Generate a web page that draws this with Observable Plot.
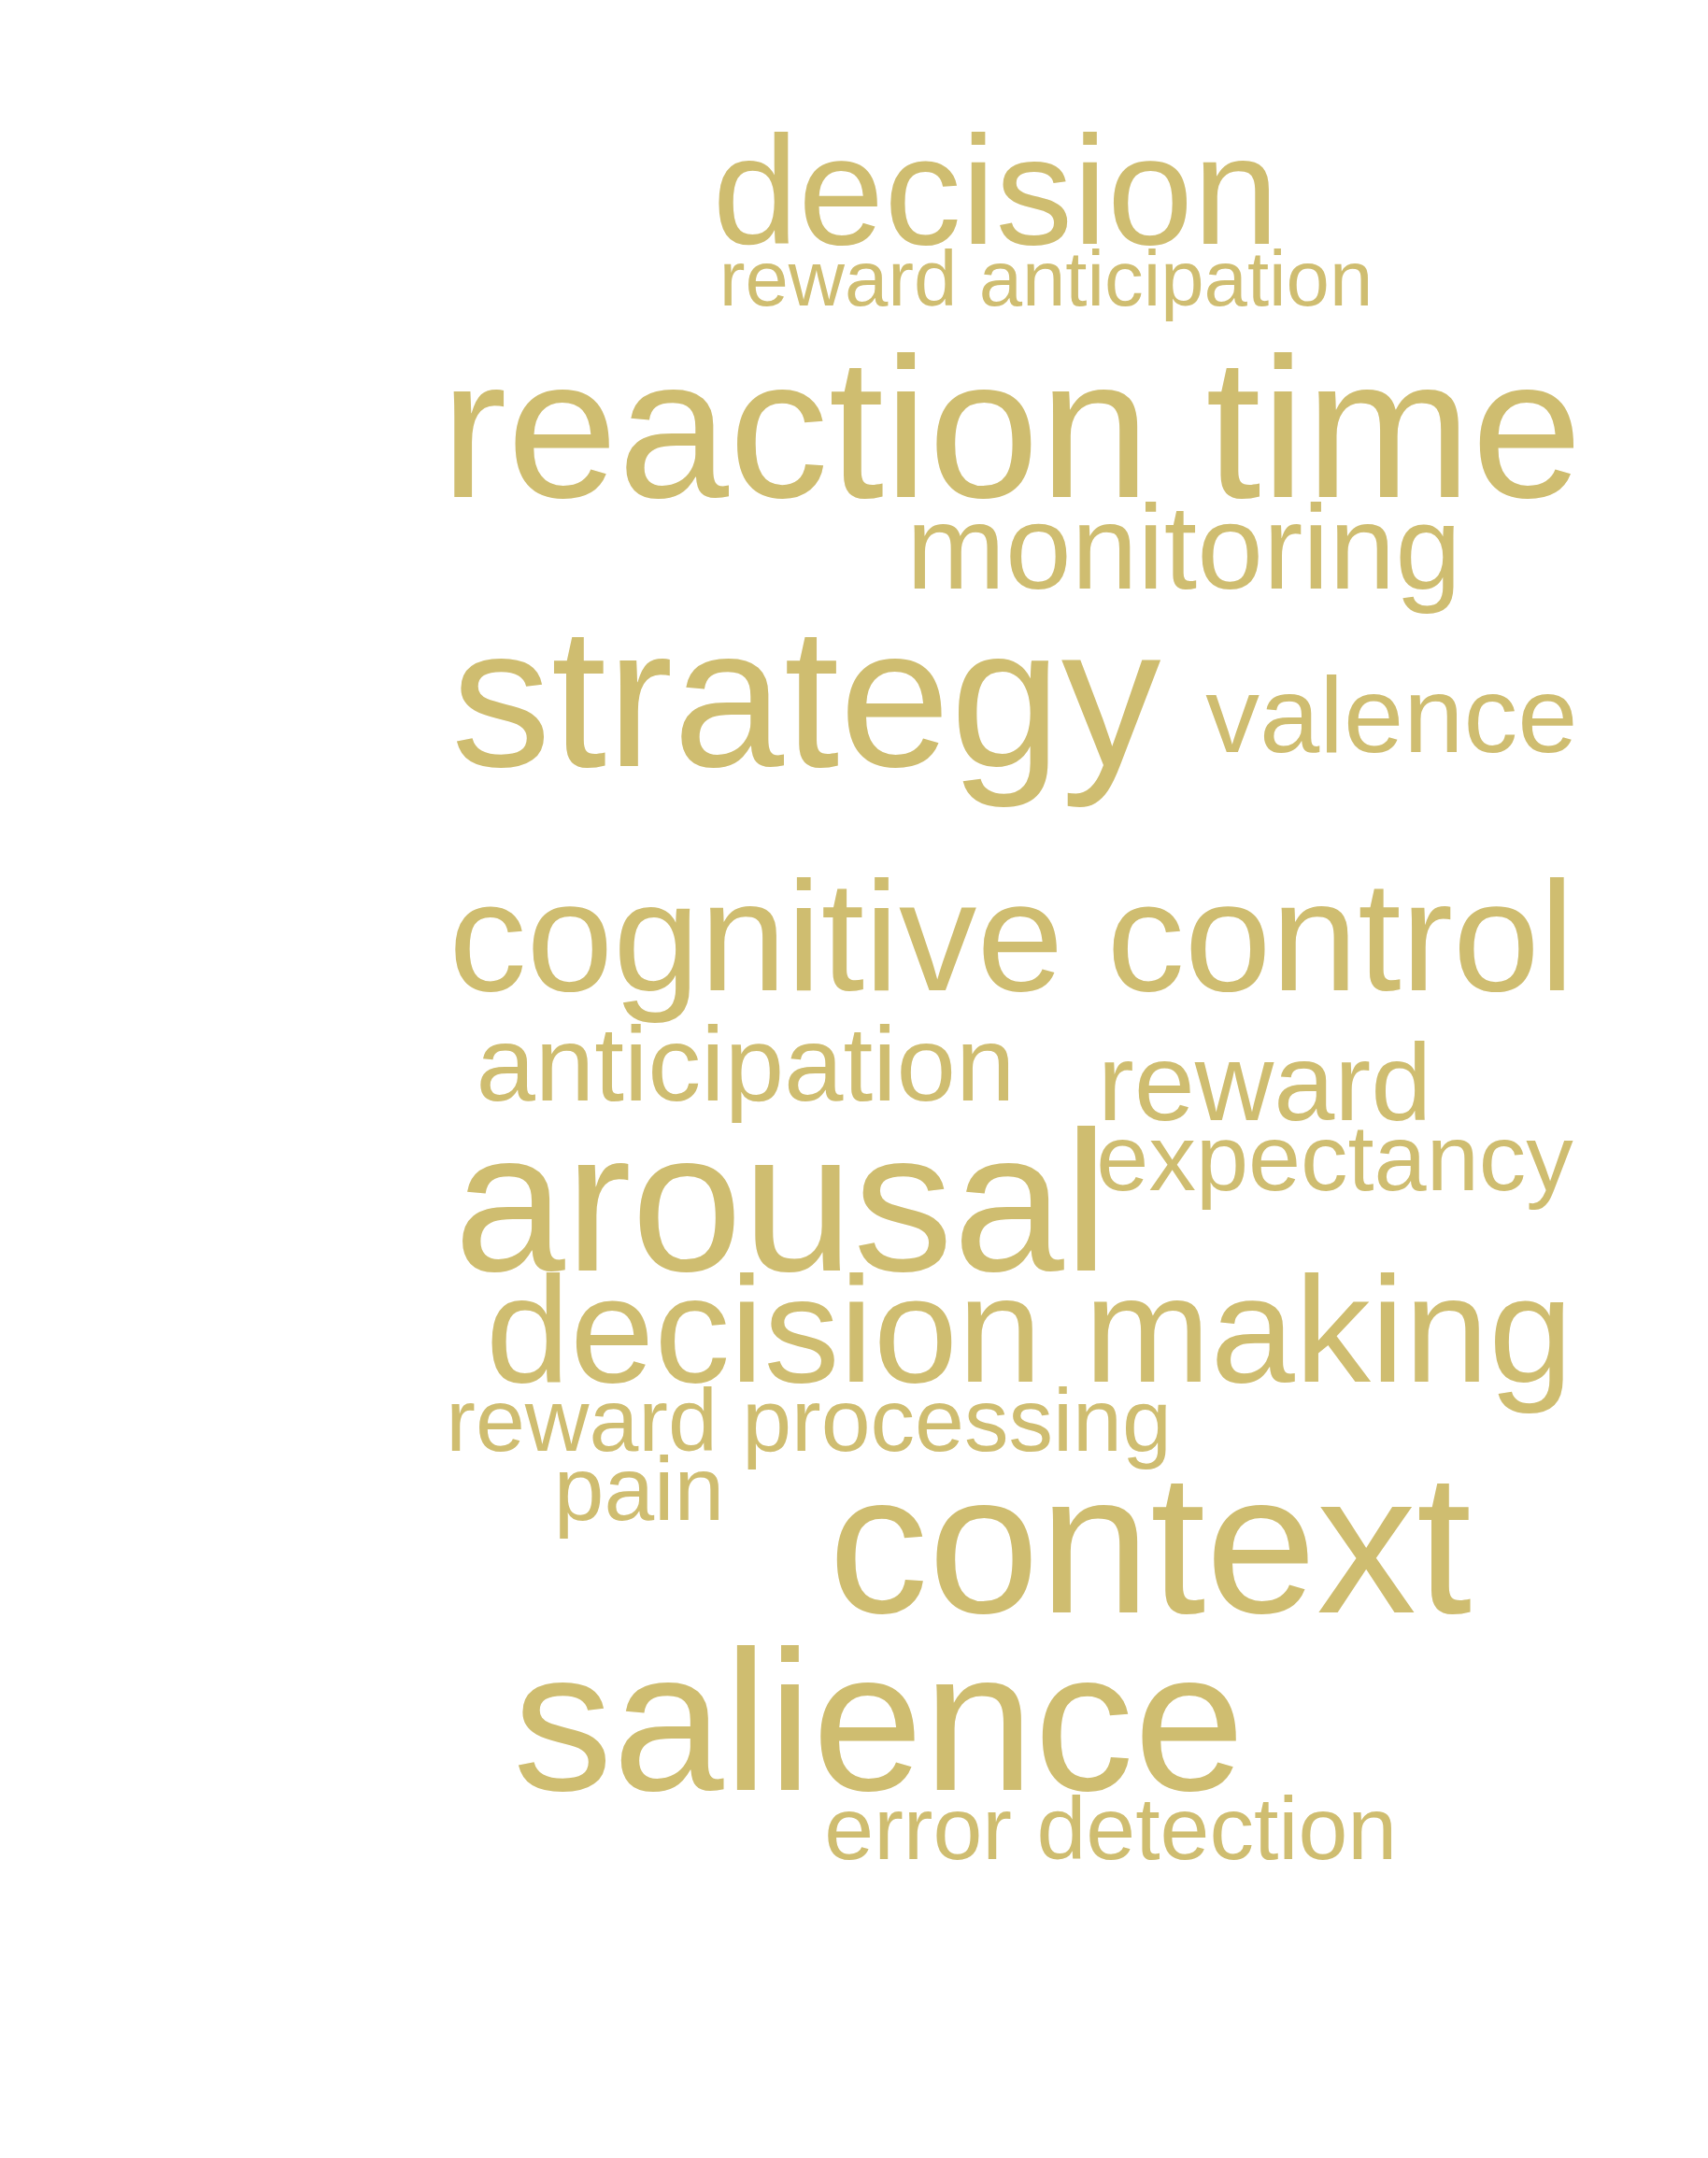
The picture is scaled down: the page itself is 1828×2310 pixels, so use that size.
<!DOCTYPE html>
<html>
<head>
<meta charset="utf-8">
<script src="https://cdn.jsdelivr.net/npm/d3@7"></script>
<script src="https://cdn.jsdelivr.net/npm/@observablehq/plot@0.6"></script>
<style>
  body { margin: 0; background: #fff; }
</style>
</head>
<body>
<div id="vis"></div>
<script>
// word cloud terms, left-baseline positions and sizes (picture units 1250x1560)
const words = ["decision", "reward anticipation", "reaction time", "monitoring", "strategy", "valence",
  "cognitive control", "anticipation", "reward", "expectancy", "arousal", "decision making",
  "reward processing", "pain", "context", "salience", "error detection"]
const xs = [521, 526, 322, 663, 330, 882, 328, 348, 803, 802, 332, 355, 326, 405, 606, 375, 603]
const ys = [183, 227, 366, 432, 560, 550, 722, 802, 816, 867, 925, 1005, 1055, 1105, 1172, 1300, 1350]
const sizes = [113, 57, 146, 87, 146, 79, 114, 78, 80, 69, 146, 111, 65, 66, 146, 146, 65]

const k = 1828 / 1250
const data = words.map((w, i) => ({word: w, x: xs[i], y: ys[i], size: sizes[i] * k}))

const chart = Plot.plot({
  width: 1828,
  height: 2310,
  margin: 0,
  x: {domain: [0, 1250], range: [0, 1828], axis: null},
  y: {domain: [0, 1560], range: [0, 2310], axis: null},
  marks: [
    Plot.text(data, {
      x: "x",
      y: "y",
      text: "word",
      fontSize: "size",
      textAnchor: "start",
      lineAnchor: "bottom",
      dy: -10,
      fill: "#cfbd70",
      fontFamily: "Liberation Sans, Arial, sans-serif"
    })
  ],
  style: {background: "#fff"}
})
d3.select('#vis').append(() => chart)
</script>
</body>
</html>
